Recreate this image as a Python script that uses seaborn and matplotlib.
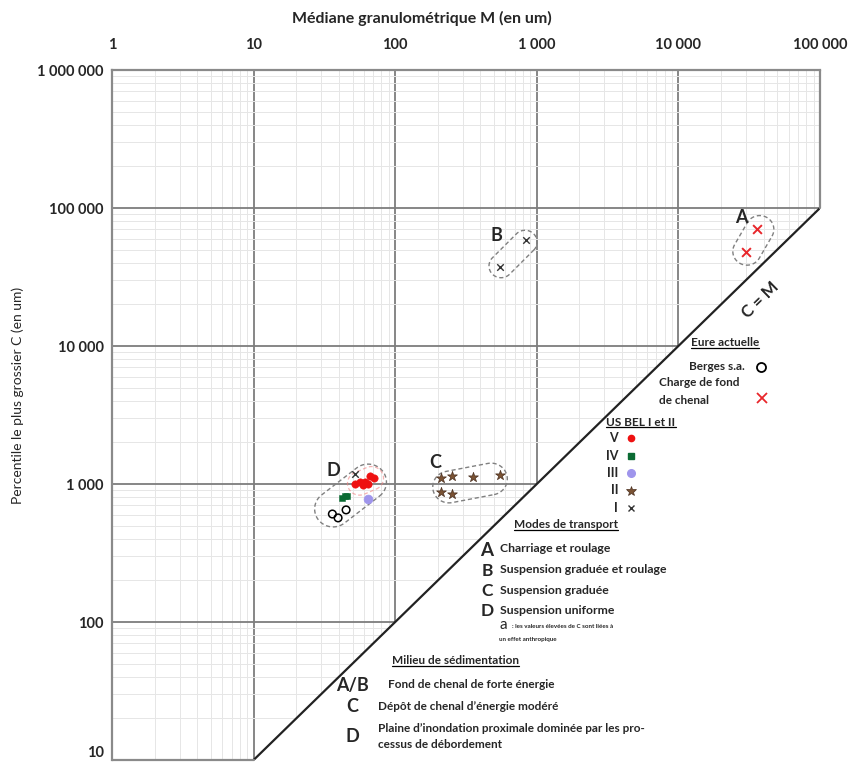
import numpy as np
import matplotlib
matplotlib.use("Agg")
import matplotlib.pyplot as plt
import seaborn as sns
import pandas as pd
from matplotlib.lines import Line2D

# data (M = mediane, C = percentile le plus grossier), in um
berges_m = [36, 39.5, 45]
berges_c = [606, 568, 649]
charge_m = [36000, 30000]
charge_c = [70000, 48000]
v_m = [52, 56, 59, 64, 66, 71, 61]
v_c = [1000, 1033, 984, 1000, 1143, 1104, 1040]
iv_m = [42, 44, 45.5]
iv_c = [790, 812, 818]
iii_m = [64]
iii_c = [778]
ii_m = [210, 252, 354, 550, 210, 252]
ii_c = [1104, 1143, 1120, 1161, 875, 847]
i_m = [840, 550, 52]
i_c = [58600, 37300, 1180]

x_ticks = [1, 10, 100, 1000, 10000, 100000]
x_tick_labels = ["1", "10", "100", "1 000", "10 000", "100 000"]
y_ticks = [10, 100, 1000, 10000, 100000, 1000000]
y_tick_labels = ["10", "100", "1 000", "10 000", "100 000", "1 000 000"]

sns.set_style("white")
plt.rcParams['font.family'] = ['Lato', 'DejaVu Sans']

W, H = 860, 762
fig = plt.figure(figsize=(W / 100, H / 100), dpi=100)
ax = fig.add_axes([112 / W, 1 - 760 / H, (820 - 112) / W, (760 - 70) / H])
ax.set_xscale('log')
ax.set_yscale('log')
ax.set_xlim(1, 1e5)
ax.set_ylim(10, 1e6)

# grid
ax.grid(which='major', color='#7d7d7d', lw=1.3, zorder=0)
ax.grid(which='minor', color='#e6e6e6', lw=0.7, zorder=0)
ax.set_axisbelow(True)

# white triangle under C = M
ax.fill([10, 1e5, 1e5, 10], [10, 1e5, 10, 10], color='white', zorder=1.5, lw=0)
ax.plot([10, 1e5], [10, 1e5], color='#222222', lw=1.6, zorder=2)
for s in ['right', 'bottom']:
    ax.spines[s].set_visible(False)
for s in ['left', 'top']:
    ax.spines[s].set_color('#8a8a8a')
    ax.spines[s].set_linewidth(1.6)
ax.plot([1e5, 1e5], [1e5, 1e6], color='#8a8a8a', lw=1.6, zorder=2, clip_on=False)
ax.plot([1, 10], [10, 10], color='#8a8a8a', lw=1.6, zorder=2, clip_on=False)

ax.xaxis.tick_top()
ax.set_xticks(x_ticks)
ax.set_xticklabels(x_tick_labels, fontsize=10.5, fontweight='bold')
ax.set_yticks(y_ticks)
ax.set_yticklabels(y_tick_labels, fontsize=10.5, fontweight='bold')
ax.get_yticklabels()[0].set_va('bottom')
ax.tick_params(axis='x', which='both', length=0, pad=13)
ax.tick_params(axis='y', which='both', length=0, pad=6)
ax.tick_params(which='minor', labeltop=False, labelleft=False)


# envelopes (capsules drawn in log space)
def capsule(p1, p2, r, **kw):
    a = np.log10(p1)
    b = np.log10(p2)
    th = np.arctan2(b[1] - a[1], b[0] - a[0])
    t1 = np.linspace(th - np.pi / 2, th + np.pi / 2, 40)
    t2 = np.linspace(th + np.pi / 2, th + 3 * np.pi / 2, 40)
    xs = np.concatenate([b[0] + r * np.cos(t1), a[0] + r * np.cos(t2), [b[0] + r * np.cos(t1[0])]])
    ys = np.concatenate([b[1] + r * np.sin(t1), a[1] + r * np.sin(t2), [b[1] + r * np.sin(t1[0])]])
    ax.plot(10 ** xs, 10 ** ys, zorder=3, **kw)


env = dict(color='#808080', lw=1.0, ls=(0, (3, 2)))
capsule((36.4, 659), (64.3, 1033), 0.13, **env)
capsule((240, 951), (475, 1087), 0.115, **env)
capsule((559, 38000), (826, 56700), 0.085, **env)
capsule((30500, 48500), (37500, 70000), 0.1, **env)
capsule((56, 1010), (68, 1100), 0.085, color='#f08080', lw=0.9, ls=(0, (3, 2)), alpha=0.6)

# points
sns.scatterplot(x=berges_m, y=berges_c, ax=ax, marker='o', s=30, facecolor='none',
                edgecolor='black', linewidth=1.1, zorder=5)
sns.scatterplot(x=charge_m, y=charge_c, ax=ax, marker='x', s=40, color='#e8262b',
                linewidth=1.4, zorder=5)
sns.scatterplot(x=v_m, y=v_c, ax=ax, marker='o', s=28, color='#ee1111', edgecolor='#ee1111', zorder=5)
sns.scatterplot(x=iv_m, y=iv_c, ax=ax, marker='s', s=22, color='#0b6b33', edgecolor='#0b6b33', zorder=5)
sns.scatterplot(x=iii_m, y=iii_c, ax=ax, marker='o', s=40, color='#9f95ec', edgecolor='#9f95ec', zorder=5)
sns.scatterplot(x=ii_m, y=ii_c, ax=ax, marker='*', s=55, color='#7a5233', edgecolor='#4a3020',
                linewidth=0.5, zorder=5)
sns.scatterplot(x=i_m, y=i_c, ax=ax, marker='x', s=22, color='#333333', linewidth=1.0, zorder=5)
ax.set_xlabel('')
ax.set_ylabel('')

# group letters and C = M
for lab, xm, yc in [('D', 36.4, 1262), ('C', 191, 1442), ('B', 515, 62700), ('A', 27700, 84700)]:
    ax.text(xm, yc, lab, fontsize=13, fontweight='bold', ha='center', va='center', zorder=6)
ax.text(37700, 21500, 'C = M', fontsize=12, fontweight='bold', rotation=44.3,
        ha='center', va='center', zorder=6)

# titles
fig.text(422 / W, 1 - 18 / H, 'Médiane granulométrique M (en um)', fontsize=11.5,
         fontweight='bold', ha='center', va='center')
fig.text(18 / W, 1 - 395 / H, 'Percentile le plus grossier C (en um)', fontsize=10,
         rotation=90, ha='center', va='center')


def px(x, y):
    return x / W, 1 - y / H


def ftext(x, y, s, **kw):
    kw.setdefault('va', 'center')
    kw.setdefault('fontweight', 'bold')
    return fig.text(*px(x, y), s, **kw)


def fmark(x, y, **kw):
    fig.add_artist(Line2D([x / W], [1 - y / H], transform=fig.transFigure, ls='none', **kw))


heads = []
heads.append(ftext(725, 343, 'Eure actuelle', fontsize=8.5, ha='center'))
ftext(745, 366, 'Berges s.a.', fontsize=8.5, ha='right')
ftext(659, 383, 'Charge de fond', fontsize=8.5, ha='left')
ftext(659, 400, 'de chenal', fontsize=8.5, ha='left')
fmark(761, 367, marker='o', ms=6.5, mfc='none', mec='black', mew=1.3)
fmark(762, 398, marker='x', ms=6.5, mec='#e8262b', mew=1.3)

heads.append(ftext(641, 422, 'US BEL I et II', fontsize=8.5, ha='center'))
legend_keys = [('V', dict(marker='o', ms=4.5, mfc='#ee1111', mec='#ee1111')),
               ('IV', dict(marker='s', ms=3.8, mfc='#0b6b33', mec='#0b6b33')),
               ('III', dict(marker='o', ms=5.5, mfc='#9f95ec', mec='#9f95ec')),
               ('II', dict(marker='*', ms=7, mfc='#7a5233', mec='#4a3020', mew=0.5)),
               ('I', dict(marker='x', ms=4.5, mec='#333333', mew=1.0))]
for k, (lab, style) in enumerate(legend_keys):
    y = 438 + k * 17.5
    ftext(618, y, lab, fontsize=9, ha='right')
    fmark(631, y, **style)

heads.append(ftext(566, 525, 'Modes de transport', fontsize=8.5, ha='center'))
modes = [('A', 'Charriage et roulage'), ('B', 'Suspension graduée et roulage'),
         ('C', 'Suspension graduée'), ('D', 'Suspension uniforme')]
for k, (lab, txt) in enumerate(modes):
    y = 550 + k * 20.5
    ftext(487, y, lab, fontsize=13.5 if k == 0 else 12.5, ha='center')
    ftext(500, y - 1, txt, fontsize=8.8, ha='left')
ftext(503, 625, 'a', fontsize=11, ha='center', fontweight='normal')
ftext(512, 626, ': les valeurs élevées de C sont liées à', fontsize=4.5, ha='left')
ftext(499, 639, 'un effet anthropique', fontsize=4.5, ha='left')

heads.append(ftext(455, 661, 'Milieu de sédimentation', fontsize=8.5, ha='center'))
ftext(352, 686, 'A/B', fontsize=13, ha='center')
ftext(388, 685, 'Fond de chenal de forte énergie', fontsize=8.5, ha='left')
ftext(352, 706, 'C', fontsize=13, ha='center')
ftext(378, 706, 'Dépôt de chenal d’énergie modéré', fontsize=8.5, ha='left')
ftext(352, 737, 'D', fontsize=13, ha='center')
ftext(378, 728, 'Plaine d’inondation proximale dominée par les pro-', fontsize=8.5, ha='left')
ftext(378, 745, 'cessus de débordement', fontsize=8.5, ha='left')

# underline the headings
fig.canvas.draw()
inv = fig.transFigure.inverted()
for t in heads:
    bb = t.get_window_extent()
    (x0, y0), (x1, _) = inv.transform([(bb.x0, bb.y0 + 1), (bb.x1, bb.y0 + 1)])
    fig.add_artist(Line2D([x0, x1], [y0, y0], transform=fig.transFigure, color='black', lw=0.9))

fig.savefig('out.png', dpi=100, facecolor='white')
